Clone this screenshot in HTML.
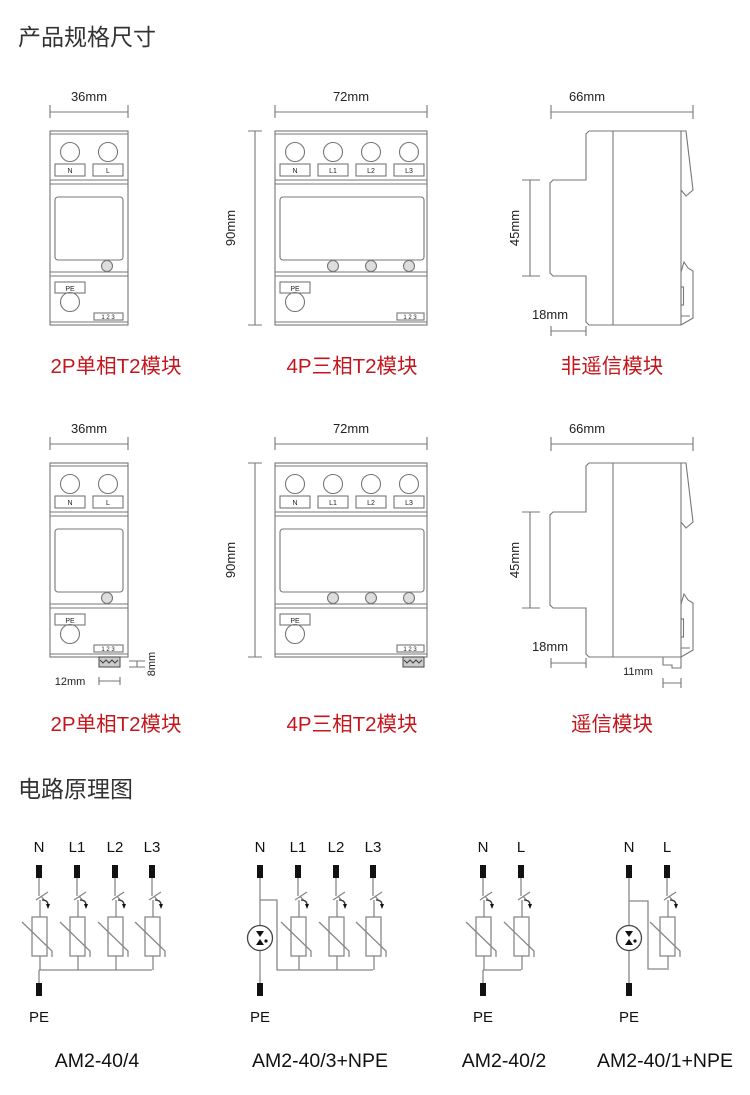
<!DOCTYPE html>
<html><head><meta charset="utf-8"><style>
html,body{margin:0;padding:0;background:#fff}
svg{display:block}
text{font-family:"Liberation Sans","Noto Sans CJK SC",sans-serif}
</style></head><body>
<svg width="750" height="1095" viewBox="0 0 750 1095" xmlns="http://www.w3.org/2000/svg">
<defs>
<g id="var" fill="none" stroke="#888" stroke-width="1.3">
  <rect x="-3" y="865" width="6" height="13" fill="#111" stroke="none"/>
  <path d="M0,878 V896"/>
  <path d="M-3,900 L9,892"/>
  <path d="M2,896 L6,901"/>
  <path d="M1,900 V917"/>
  <path d="M3,900 Q9,900 9,905" stroke="#333"/>
  <path d="M7,904 L11,904 L9,909 Z" fill="#111" stroke="none"/>
  <rect x="-7" y="917" width="15" height="39"/>
  <path d="M-17,922 L13,951 V957"/>
  <path d="M1,956 V970"/>
</g>
<g id="gdt" fill="none" stroke="#888" stroke-width="1.3">
  <circle cx="0" cy="938" r="12.5" stroke="#444"/>
  <path d="M-4,931 L4,931 L0,937 Z M-4,945 L4,945 L0,939 Z" fill="#111" stroke="none"/>
  <circle cx="6" cy="941" r="1.6" fill="#111" stroke="none"/>
</g>
</defs>

<text x="18" y="45" font-size="23" fill="#333">产品规格尺寸</text>
<text x="18" y="797" font-size="23" fill="#333">电路原理图</text>

<g fill="none" stroke="#777" stroke-width="1.1">
  <text x="89" y="101" font-size="13" fill="#222" stroke="none" text-anchor="middle">36mm</text>
  <path d="M50,112 H128 M50,105 V118 M128,105 V118"/>
  <rect x="50" y="131" width="78" height="194"/>
  <path d="M50,134 H128 M50,180 H128 M50,184 H128 M50,272 H128 M50,276 H128 M50,322 H128"/>
  <circle cx="70" cy="152" r="9.5"/><circle cx="108" cy="152" r="9.5"/>
  <rect x="55" y="164" width="30" height="12"/><rect x="93" y="164" width="30" height="12"/>
  <rect x="55" y="197" width="68" height="63" rx="3"/>
  <circle cx="107" cy="266" r="5.5" fill="#ddd"/>
  <rect x="55" y="282" width="30" height="11"/>
  <circle cx="70" cy="302" r="9.5"/>
  <rect x="94" y="313" width="29" height="7"/>
  <g stroke="none" fill="#222" font-size="7" text-anchor="middle">
    <text x="70" y="173">N</text><text x="108" y="173">L</text>
    <text x="70" y="291">PE</text><text x="108" y="319" font-size="6">1  2  3</text>
  </g>

  <text x="351" y="101" font-size="13" fill="#222" stroke="none" text-anchor="middle">72mm</text>
  <path d="M275,112 H427 M275,105 V118 M427,105 V118"/>
  <path d="M255,131 V325 M248,131 H262 M248,325 H262"/>
  <text transform="translate(235,228) rotate(-90)" font-size="13" fill="#222" stroke="none" text-anchor="middle">90mm</text>
  <rect x="275" y="131" width="152" height="194"/>
  <path d="M275,134 H427 M275,180 H427 M275,184 H427 M275,272 H427 M275,276 H427 M275,322 H427"/>
  <circle cx="295" cy="152" r="9.5"/><circle cx="333" cy="152" r="9.5"/><circle cx="371" cy="152" r="9.5"/><circle cx="409" cy="152" r="9.5"/>
  <rect x="280" y="164" width="30" height="12"/><rect x="318" y="164" width="30" height="12"/><rect x="356" y="164" width="30" height="12"/><rect x="394" y="164" width="30" height="12"/>
  <rect x="280" y="197" width="144" height="63" rx="3"/>
  <circle cx="333" cy="266" r="5.5" fill="#ddd"/><circle cx="371" cy="266" r="5.5" fill="#ddd"/><circle cx="409" cy="266" r="5.5" fill="#ddd"/>
  <rect x="280" y="282" width="30" height="11"/>
  <circle cx="295" cy="302" r="9.5"/>
  <rect x="397" y="313" width="27" height="7"/>
  <g stroke="none" fill="#222" font-size="7" text-anchor="middle">
    <text x="295" y="173">N</text><text x="333" y="173">L1</text><text x="371" y="173">L2</text><text x="409" y="173">L3</text>
    <text x="295" y="291">PE</text><text x="410" y="319" font-size="6">1  2  3</text>
  </g>

  <text x="587" y="101" font-size="13" fill="#222" stroke="none" text-anchor="middle">66mm</text>
  <path d="M551,112 H693 M551,105 V119 M693,105 V119"/>
  <path d="M589,131 H681 L686,131 L693,190 L686,196 L681,190 M589,131 L586,134 V180 H553 L550,183 V273 L553,276 H586 V322 L589,325 H681"/>
  <path d="M613,131 V325 M681,131 V325"/>
  <path d="M681,272 L684,262 L688,268 L693,271 V318 L681,325 M681,316 H690"/>
  <rect x="681" y="287" width="2.5" height="18"/>
  <path d="M530,180 V276 M522,180 H540 M522,276 H540"/>
  <text transform="translate(519,228) rotate(-90)" font-size="13" fill="#222" stroke="none" text-anchor="middle">45mm</text>
  <text x="550" y="319" font-size="13" fill="#222" stroke="none" text-anchor="middle">18mm</text>
  <path d="M551,331 H586 M551,326 V336 M586,326 V336"/>
</g>

<g transform="translate(0,332)" fill="none" stroke="#777" stroke-width="1.1">
  <text x="89" y="101" font-size="13" fill="#222" stroke="none" text-anchor="middle">36mm</text>
  <path d="M50,112 H128 M50,105 V118 M128,105 V118"/>
  <rect x="50" y="131" width="78" height="194"/>
  <path d="M50,134 H128 M50,180 H128 M50,184 H128 M50,272 H128 M50,276 H128 M50,322 H128"/>
  <circle cx="70" cy="152" r="9.5"/><circle cx="108" cy="152" r="9.5"/>
  <rect x="55" y="164" width="30" height="12"/><rect x="93" y="164" width="30" height="12"/>
  <rect x="55" y="197" width="68" height="63" rx="3"/>
  <circle cx="107" cy="266" r="5.5" fill="#ddd"/>
  <rect x="55" y="282" width="30" height="11"/>
  <circle cx="70" cy="302" r="9.5"/>
  <rect x="94" y="313" width="29" height="7"/>
  <rect x="99" y="325" width="21" height="10" fill="#ccc" stroke="#555"/>
  <path d="M100,328 l3,3 l3,-3 l3,3 l3,-3 l3,3 l3,-3" stroke="#444"/>
  <path d="M129,329 H145 M129,335 H145 M137,329 V335"/>
  <text transform="translate(155,332) rotate(-90)" font-size="11" fill="#222" stroke="none" text-anchor="middle">8mm</text>
  <text x="70" y="353" font-size="11" fill="#222" stroke="none" text-anchor="middle">12mm</text>
  <path d="M99,349 H120 M99,345 V353 M120,345 V353"/>
  <g stroke="none" fill="#222" font-size="7" text-anchor="middle">
    <text x="70" y="173">N</text><text x="108" y="173">L</text>
    <text x="70" y="291">PE</text><text x="108" y="319" font-size="6">1  2  3</text>
  </g>

  <text x="351" y="101" font-size="13" fill="#222" stroke="none" text-anchor="middle">72mm</text>
  <path d="M275,112 H427 M275,105 V118 M427,105 V118"/>
  <path d="M255,131 V325 M248,131 H262 M248,325 H262"/>
  <text transform="translate(235,228) rotate(-90)" font-size="13" fill="#222" stroke="none" text-anchor="middle">90mm</text>
  <rect x="275" y="131" width="152" height="194"/>
  <path d="M275,134 H427 M275,180 H427 M275,184 H427 M275,272 H427 M275,276 H427 M275,322 H427"/>
  <circle cx="295" cy="152" r="9.5"/><circle cx="333" cy="152" r="9.5"/><circle cx="371" cy="152" r="9.5"/><circle cx="409" cy="152" r="9.5"/>
  <rect x="280" y="164" width="30" height="12"/><rect x="318" y="164" width="30" height="12"/><rect x="356" y="164" width="30" height="12"/><rect x="394" y="164" width="30" height="12"/>
  <rect x="280" y="197" width="144" height="63" rx="3"/>
  <circle cx="333" cy="266" r="5.5" fill="#ddd"/><circle cx="371" cy="266" r="5.5" fill="#ddd"/><circle cx="409" cy="266" r="5.5" fill="#ddd"/>
  <rect x="280" y="282" width="30" height="11"/>
  <circle cx="295" cy="302" r="9.5"/>
  <rect x="397" y="313" width="27" height="7"/>
  <rect x="403" y="325" width="21" height="10" fill="#ccc" stroke="#555"/>
  <path d="M404,328 l3,3 l3,-3 l3,3 l3,-3 l3,3 l3,-3" stroke="#444"/>
  <g stroke="none" fill="#222" font-size="7" text-anchor="middle">
    <text x="295" y="173">N</text><text x="333" y="173">L1</text><text x="371" y="173">L2</text><text x="409" y="173">L3</text>
    <text x="295" y="291">PE</text><text x="410" y="319" font-size="6">1  2  3</text>
  </g>

  <text x="587" y="101" font-size="13" fill="#222" stroke="none" text-anchor="middle">66mm</text>
  <path d="M551,112 H693 M551,105 V119 M693,105 V119"/>
  <path d="M589,131 H681 L686,131 L693,190 L686,196 L681,190 M589,131 L586,134 V180 H553 L550,183 V273 L553,276 H586 V322 L589,325 H681"/>
  <path d="M613,131 V325 M681,131 V325"/>
  <path d="M681,272 L684,262 L688,268 L693,271 V318 L681,325 M681,316 H690"/>
  <rect x="681" y="287" width="2.5" height="18"/>
  <path d="M663,325 V333 L672,333 L672,336 H681 V325"/>
  <path d="M530,180 V276 M522,180 H540 M522,276 H540"/>
  <text transform="translate(519,228) rotate(-90)" font-size="13" fill="#222" stroke="none" text-anchor="middle">45mm</text>
  <text x="550" y="319" font-size="13" fill="#222" stroke="none" text-anchor="middle">18mm</text>
  <path d="M551,331 H586 M551,326 V336 M586,326 V336"/>
  <text x="638" y="343" font-size="11" fill="#222" stroke="none" text-anchor="middle">11mm</text>
  <path d="M663,351 H681 M663,346 V356 M681,346 V356"/>
</g>

<g font-size="20.5" fill="#c4161c" text-anchor="middle">
  <text x="116" y="373">2P单相T2模块</text>
  <text x="352" y="373">4P三相T2模块</text>
  <text x="612" y="373">非遥信模块</text>
  <text x="116" y="731">2P单相T2模块</text>
  <text x="352" y="731">4P三相T2模块</text>
  <text x="612" y="731">遥信模块</text>
</g>

<g font-size="15" fill="#111" text-anchor="middle">
  <text x="39" y="852">N</text><text x="77" y="852">L1</text><text x="115" y="852">L2</text><text x="152" y="852">L3</text>
  <text x="39" y="1022">PE</text>
  <text x="260" y="852">N</text><text x="298" y="852">L1</text><text x="336" y="852">L2</text><text x="373" y="852">L3</text>
  <text x="260" y="1022">PE</text>
  <text x="483" y="852">N</text><text x="521" y="852">L</text>
  <text x="483" y="1022">PE</text>
  <text x="629" y="852">N</text><text x="667" y="852">L</text>
  <text x="629" y="1022">PE</text>
</g>
<g font-size="19.5" fill="#111" text-anchor="middle">
  <text x="97" y="1067">AM2-40/4</text>
  <text x="320" y="1067">AM2-40/3+NPE</text>
  <text x="504" y="1067">AM2-40/2</text>
  <text x="665" y="1067">AM2-40/1+NPE</text>
</g>

<use href="#var" x="39"/><use href="#var" x="77"/><use href="#var" x="115"/><use href="#var" x="152"/>
<path d="M39,970 H152 M39,970 V983" stroke="#888" stroke-width="1.3" fill="none"/>
<rect x="36" y="983" width="6" height="13" fill="#111"/>

<use href="#var" x="298"/><use href="#var" x="336"/><use href="#var" x="373"/>
<rect x="257" y="865" width="6" height="13" fill="#111"/>
<path d="M260,878 V925.5 M260,950.5 V983 M260,900 H277 V970 H373" stroke="#888" stroke-width="1.3" fill="none"/>
<use href="#gdt" x="260"/>
<rect x="257" y="983" width="6" height="13" fill="#111"/>

<use href="#var" x="483"/><use href="#var" x="521"/>
<path d="M483,970 H521 M483,970 V983" stroke="#888" stroke-width="1.3" fill="none"/>
<rect x="480" y="983" width="6" height="13" fill="#111"/>

<use href="#var" x="667"/>
<rect x="626" y="865" width="6" height="13" fill="#111"/>
<path d="M629,878 V925.5 M629,950.5 V983 M629,901 H648 V969 H667" stroke="#888" stroke-width="1.3" fill="none"/>
<use href="#gdt" x="629"/>
<rect x="626" y="983" width="6" height="13" fill="#111"/>
</svg>
</body></html>
